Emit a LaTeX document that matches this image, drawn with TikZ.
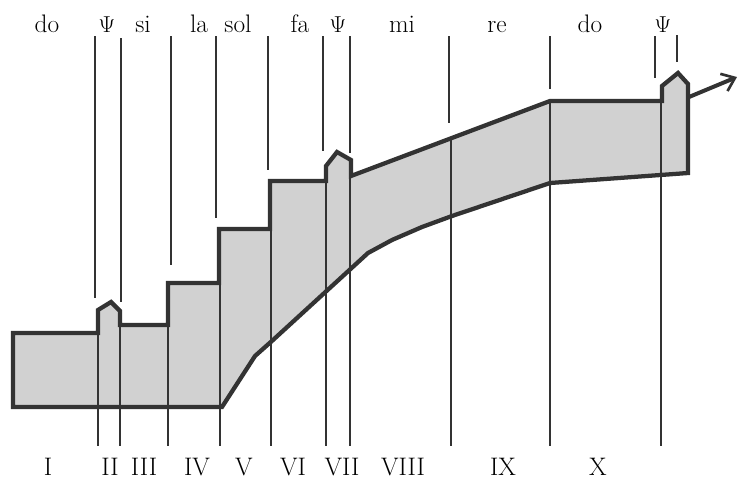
\documentclass[tikz,border=0pt]{standalone}
\usepackage{tikz}
\usetikzlibrary{arrows.meta}

\begin{document}
\begin{tikzpicture}[
  x=0.75pt, y=-0.75pt,
  font=\fontsize{19}{22}\selectfont,
  band/.style={draw=black!80, fill=black!18, line width=3.2pt, line join=miter},
  guide/.style={draw=black!80, line width=1pt},
  flow/.style={draw=black!80, line width=3pt, -{Straight Barb[length=9pt, width=14pt, line width=2pt]}},
  note/.style={anchor=base, inner sep=0pt},
  era/.style={anchor=base, inner sep=0pt}
]
  \useasboundingbox (0,0) rectangle (739,479);

  % stepped band and rising band
  \draw[band] (13,407) -- (13,333) -- (98,333) -- (98,310) -- (111,302) -- (120,311)
    -- (120,325) -- (168,325) -- (168,283) -- (219,283) -- (219,229) -- (270,229)
    -- (270,181) -- (326,181) -- (326,166) -- (337,152) -- (351,160) -- (351,176)
    -- (550,101) -- (662,101) -- (662,86) -- (678,73) -- (688,84) -- (688,173)
    -- (550,183) -- (452,216) -- (422,227) -- (392,240) -- (368,253) -- (273,340)
    -- (255,356) -- (222,407) -- cycle;

  % division lines, upper part
  \draw[guide] (95,36) -- (95,298);
  \draw[guide] (121,38) -- (121,302);
  \draw[guide] (171,36) -- (171,265);
  \draw[guide] (216,36) -- (216,218);
  \draw[guide] (268,36) -- (268,170);
  \draw[guide] (323,36) -- (323,151);
  \draw[guide] (350,36) -- (350,153);
  \draw[guide] (449,36) -- (449,123);
  \draw[guide] (550,36) -- (550,89);
  \draw[guide] (655,36) -- (655,78);
  \draw[guide] (677,35) -- (677,62);

  % division lines, lower part
  \draw[guide] (98,310) -- (98,446);
  \draw[guide] (120,311) -- (120,446);
  \draw[guide] (168,283) -- (168,446);
  \draw[guide] (220,229) -- (220,446);
  \draw[guide] (271,181) -- (271,446);
  \draw[guide] (326,166) -- (326,446);
  \draw[guide] (350,160) -- (350,446);
  \draw[guide] (451,138) -- (451,446);
  \draw[guide] (550,101) -- (550,446);
  \draw[guide] (661,86) -- (661,446);

  % outgoing arrow
  \coordinate (tail) at (689,97);
  \coordinate (head) at (737,77);
  \draw[flow] (tail) -- (head);

  % notes on top
  \node[note] (do1) at (47,32) {do};
  \node[note] (psi1) at (107,32) {$\Psi$};
  \node[note] (si) at (143,32) {si};
  \node[note] (la) at (199,32) {la};
  \node[note] (sol) at (238,32) {sol};
  \node[note] (fa) at (300,32) {fa};
  \node[note] (psi2) at (338,32) {$\Psi$};
  \node[note] (mi) at (402,32) {mi};
  \node[note] (re) at (497,32) {re};
  \node[note] (do2) at (590,32) {do};
  \node[note] (psi3) at (663,32) {$\Psi$};

  % periods at the bottom
  \node[era] (pI) at (48,475) {I};
  \node[era] (pII) at (110,475) {II};
  \node[era] (pIII) at (144,475) {III};
  \node[era] (pIV) at (197,475) {IV};
  \node[era] (pV) at (244,475) {V};
  \node[era] (pVI) at (293,475) {VI};
  \node[era] (pVII) at (342,475) {VII};
  \node[era] (pVIII) at (403,475) {VIII};
  \node[era] (pIX) at (503,475) {IX};
  \node[era] (pX) at (598,475) {X};
\end{tikzpicture}
\end{document}
